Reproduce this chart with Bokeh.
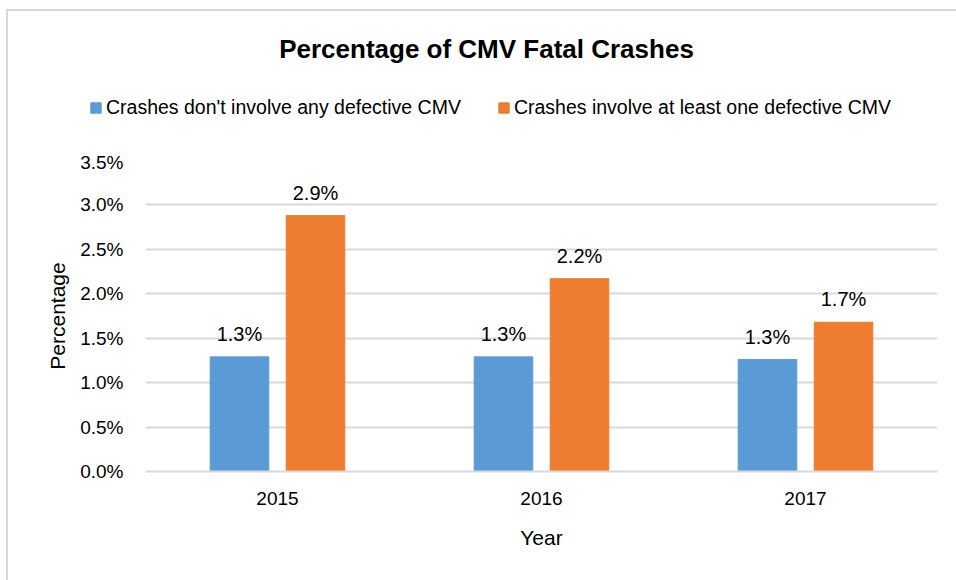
from bokeh.plotting import figure
from bokeh.layouts import column
from bokeh.models import (ColumnDataSource, FactorRange, Range1d, NumeralTickFormatter,
                          FixedTicker, Legend, LegendItem, LabelSet, Label)
from bokeh.core.properties import value
from bokeh.transform import dodge
from bokeh.embed import file_html
from bokeh.resources import INLINE

years = ["2015", "2016", "2017"]
no_defect = [0.0129, 0.0129, 0.0126]
with_defect = [0.0288, 0.0217, 0.0168]
series_names = ["Crashes don't involve any defective CMV",
                "Crashes involve at least one defective CMV"]
y_ticks = [0.0, 0.005, 0.010, 0.015, 0.020, 0.025, 0.030, 0.035]
title_text = "Percentage of CMV Fatal Crashes"
y_label = "Percentage"
x_label = "Year"

FONT = "Liberation Sans"
BLUE = "#5B9BD5"
ORANGE = "#ED7D31"
GRID = "#D9D9D9"
OFF = 0.144
BW = 0.222

src = ColumnDataSource(dict(
    year=years,
    a=no_defect,
    b=with_defect,
    a_lab=[f"{v*100:.1f}%" for v in no_defect],
    b_lab=[f"{v*100:.1f}%" for v in with_defect],
))

# ---- main chart ----
p = figure(width=948, height=429, x_range=FactorRange(factors=years),
           y_range=Range1d(0, 0.035), output_backend="svg", toolbar_location=None,
           title=None,
           min_border_left=137, min_border_right=19, min_border_top=9, min_border_bottom=109)
p.frame_align = False

r1 = p.vbar(x=dodge("year", -OFF, range=p.x_range), top="a", width=BW, source=src,
            fill_color=BLUE, line_color=BLUE)
r2 = p.vbar(x=dodge("year", OFF, range=p.x_range), top="b", width=BW, source=src,
            fill_color=ORANGE, line_color=ORANGE)

for col, lab, off in (("a", "a_lab", -OFF), ("b", "b_lab", OFF)):
    p.add_layout(LabelSet(x=dodge("year", off, range=p.x_range), y=col, text=lab, source=src,
                          text_align="center", text_baseline="alphabetic", y_offset=16,
                          text_font=value(FONT), text_font_size="20px",
                          text_color="#000000"))

p.yaxis.ticker = FixedTicker(ticks=y_ticks)
p.yaxis.formatter = NumeralTickFormatter(format="0.0%")
p.yaxis.axis_line_color = None
p.yaxis.major_label_standoff = 22
p.yaxis.axis_label = y_label
p.yaxis.axis_label_standoff = 8

p.xaxis.axis_line_color = GRID
p.xaxis.axis_line_width = 2
p.xaxis.major_label_standoff = 20
p.xaxis.axis_label = x_label
p.xaxis.axis_label_standoff = 18

for ax in (p.xaxis, p.yaxis):
    ax.major_tick_line_color = None
    ax.minor_tick_line_color = None
    ax.major_tick_out = 0
    ax.major_tick_in = 0
    ax.minor_tick_out = 0
    ax.minor_tick_in = 0
    ax.major_label_text_font = FONT
    ax.major_label_text_font_size = "19px"
    ax.major_label_text_color = "#000000"
    ax.axis_label_text_font = FONT
    ax.axis_label_text_font_size = "21px"
    ax.axis_label_text_font_style = "normal"
    ax.axis_label_text_color = "#000000"

p.xgrid.grid_line_color = None
p.ygrid.grid_line_color = GRID
p.ygrid.grid_line_width = 2
p.outline_line_color = None

# ---- header: title and legend ----
top = figure(width=948, height=140, x_range=Range1d(0, 948), y_range=Range1d(0, 140),
             x_axis_type=None, y_axis_type=None, output_backend="svg",
             toolbar_location=None, title=None, min_border=0)
top.frame_align = False
top.outline_line_color = None
top.grid.visible = False

h1 = top.vbar(x=dodge("year", -OFF, range=p.x_range), top="a", width=BW, source=src,
              fill_color=BLUE, line_color=BLUE, visible=False)
h2 = top.vbar(x=dodge("year", OFF, range=p.x_range), top="b", width=BW, source=src,
              fill_color=ORANGE, line_color=ORANGE, visible=False)

top.add_layout(Label(x=478, y=103, text=title_text, text_align="center",
                     text_baseline="alphabetic", text_font=FONT, text_font_size="26px",
                     text_font_style="bold", text_color="#000000"))

legend = Legend(items=[LegendItem(label=series_names[0], renderers=[h1]),
                       LegendItem(label=series_names[1], renderers=[h2])],
                orientation="horizontal", location=(81, 32),
                label_text_font=FONT, label_text_font_size="19.5px",
                label_text_color="#000000",
                glyph_width=13, glyph_height=13, label_standoff=4, spacing=36,
                padding=0, margin=0,
                border_line_color=None, background_fill_alpha=0)
top.add_layout(legend)

layout = column(top, p, spacing=0,
                styles={"margin-left": "6px", "margin-top": "9px",
                        "border-left": "2px solid #D9D9D9",
                        "border-top": "2px solid #D9D9D9"})

open("out.html", "w").write(file_html(layout, INLINE))
